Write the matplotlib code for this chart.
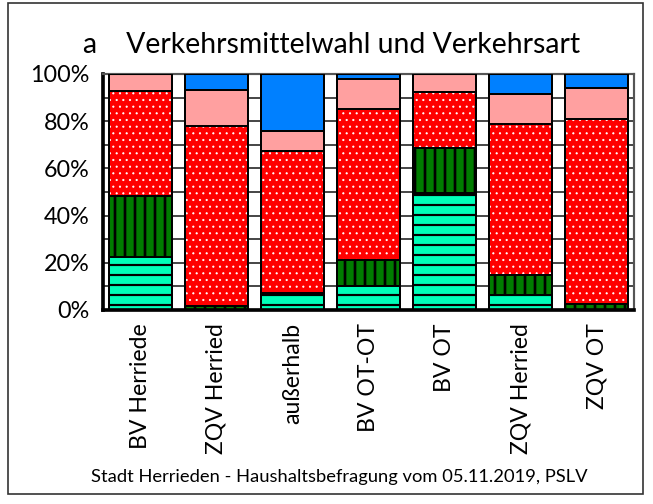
import numpy as np
import matplotlib
matplotlib.use('Agg')
import matplotlib.pyplot as plt
from matplotlib.patches import Rectangle

# Daten (Anteile in %)
kategorien = ['BV Herriede', 'ZQV Herried', 'außerhalb', 'BV OT-OT', 'BV OT', 'ZQV Herried', 'ZQV OT']
fuss = [22.4, 0.0, 7.0, 10.0, 49.4, 6.3, 0.0]
rad = [26.1, 1.5, 0.0, 11.1, 19.4, 8.5, 2.6]
miv_fahrer = [44.3, 76.5, 60.5, 64.0, 23.6, 64.1, 78.3]
miv_mitfahrer = [7.2, 15.2, 8.5, 12.8, 7.6, 12.7, 13.1]
oepnv = [0.0, 6.8, 24.0, 2.1, 0.0, 8.4, 6.0]

serien = [fuss, rad, miv_fahrer, miv_mitfahrer, oepnv]
farben = ['#00ffb9', '#007c00', '#ff0000', '#ffa0a0', '#0080ff']
muster = ['--', '||', '...', '', '']
musterfarben = ['black', 'black', 'white', 'black', 'black']
musterbreiten = [1.3, 1.6, 0.5, 1.0, 1.0]

plt.rcParams['font.family'] = ['Lato', 'DejaVu Sans']

fig = plt.figure(figsize=(653 / 120, 504 / 120), dpi=120)
ax = fig.add_axes([103 / 653, 1 - 310 / 504, 531 / 653, 236 / 504])

x = np.arange(len(kategorien))
breite = 0.83
unten = np.zeros(len(kategorien))
for werte, farbe, hatch, hfarbe, hbreite in zip(serien, farben, muster, musterfarben, musterbreiten):
    werte = np.array(werte)
    m = werte > 0
    plt.rcParams['hatch.linewidth'] = hbreite
    # Fuellung mit Muster (Musterfarbe kommt aus edgecolor)
    ax.bar(x[m], werte[m], breite, bottom=unten[m], color=farbe, hatch=hatch,
           edgecolor=hfarbe, linewidth=0, zorder=2)
    # Umriss
    ax.bar(x[m], werte[m], breite, bottom=unten[m], fill=False,
           edgecolor='black', linewidth=1.2, zorder=3)
    unten += werte

ax.set_xlim(-0.493, 6.493)
ax.set_ylim(0, 100)
ax.set_yticks(np.arange(0, 101, 20))
ax.set_yticks(np.arange(10, 100, 20), minor=True)
ax.set_yticklabels([f'{v}%' for v in range(0, 101, 20)], fontsize=14)
ax.grid(axis='y', which='both', color='#3a3a3a', linewidth=1.1, zorder=0)
ax.set_axisbelow(True)
ax.tick_params(axis='y', which='both', length=0, pad=8)
ax.set_xticks(x)
ax.set_xticklabels(kategorien, rotation=90, fontsize=13.8)
ax.tick_params(axis='x', length=0, pad=8)

for s in ['left', 'bottom']:
    ax.spines[s].set_linewidth(2.2)
    ax.spines[s].set_color('black')
for s in ['top', 'right']:
    ax.spines[s].set_linewidth(1.3)
    ax.spines[s].set_color('#555555')

fig.text(0.508, 1 - 45 / 504, 'a    Verkehrsmittelwahl und Verkehrsart',
         ha='center', va='center', fontsize=17)
fig.text(0.52, 1 - 477 / 504, 'Stadt Herrieden - Haushaltsbefragung vom 05.11.2019, PSLV',
         ha='center', va='center', fontsize=11)

# Rahmen um die ganze Grafik
fig.patches.append(Rectangle((8 / 653, 1 - 494 / 504), 635 / 653, 491 / 504,
                             transform=fig.transFigure, fill=False,
                             edgecolor='#333333', linewidth=1))

fig.savefig('out.png', dpi=120)
